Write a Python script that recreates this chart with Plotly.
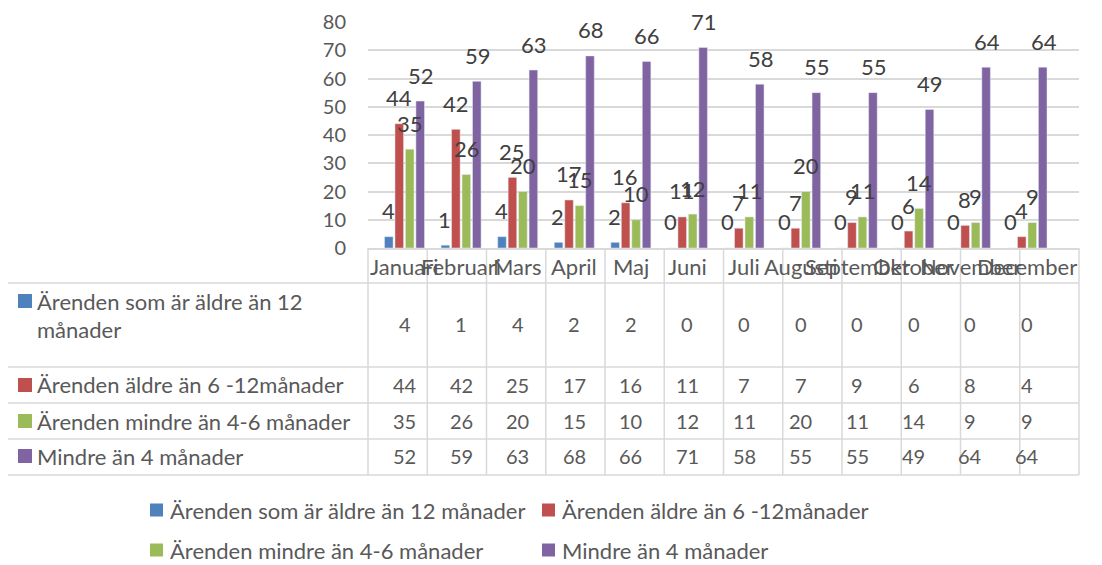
import plotly.graph_objects as go

months = ["Januari", "Februari", "Mars", "April", "Maj", "Juni",
          "Juli", "Augusti", "September", "Oktober", "November", "December"]
series_names = [
    "Ärenden som är äldre än 12 månader",
    "Ärenden äldre än 6 -12månader",
    "Ärenden mindre än 4-6 månader",
    "Mindre än 4 månader",
]
table_labels = [
    ["Ärenden som är äldre än 12", "månader"],
    ["Ärenden äldre än 6 -12månader"],
    ["Ärenden mindre än 4-6 månader"],
    ["Mindre än 4 månader"],
]
older_12 = [4, 1, 4, 2, 2, 0, 0, 0, 0, 0, 0, 0]
older_6_12 = [44, 42, 25, 17, 16, 11, 7, 7, 9, 6, 8, 4]
within_4_6 = [35, 26, 20, 15, 10, 12, 11, 20, 11, 14, 9, 9]
under_4 = [52, 59, 63, 68, 66, 71, 58, 55, 55, 49, 64, 64]
y_ticks = [0, 10, 20, 30, 40, 50, 60, 70, 80]

colors = ["#4f81bd", "#c0504d", "#9bbb59", "#8064a2"]
all_series = [older_12, older_6_12, within_4_6, under_4]

W, H = 1102, 565
OFF = 8  # page body margin
FONT = "Lato, Open Sans, sans-serif"
GRID = "#d9d9d9"
TXT = "#595959"


def px(x):
    return (x - OFF) / W


def py(y):
    return 1 - (y - OFF) / H


def label(x, y, text, size, xref="paper", xanchor="center", color=TXT):
    return dict(x=x, y=y, xref=xref, yref="paper", text=text, showarrow=False,
                xanchor=xanchor, yanchor="middle",
                font=dict(family=FONT, size=size, color=color))


fig = go.Figure()
for name, vals, col in zip(series_names, all_series, colors):
    fig.add_trace(go.Bar(x=months, y=vals, name=name, marker_color=col,
                         showlegend=False))

annotations = []
shapes = []

# data labels above bars
for i, vals in enumerate(all_series):
    for m, v in zip(months, vals):
        annotations.append(dict(
            x=m, y=v, xref="x", yref="y", text=str(v), showarrow=False,
            xshift=(i - 1.5) * 11, yshift=26, xanchor="center", yanchor="middle",
            font=dict(family=FONT, size=22, color="#404040")))

# month header labels
for m in months:
    annotations.append(label(m, py(266), m, 22, xref="x"))

# table rows
row_bounds = [283, 367, 403, 439, 475]
row_centers = [324, 385, 421, 456]
for r, vals in enumerate(all_series):
    yc = row_centers[r]
    for m, v in zip(months, vals):
        annotations.append(label(m, py(yc), str(v), 20, xref="x"))
    if r == 0:
        annotations.append(label(px(35), py(301), table_labels[r][0], 22, xanchor="left"))
        annotations.append(label(px(35), py(329), table_labels[r][1], 22, xanchor="left"))
        sq_y = 301
    else:
        annotations.append(label(px(35), py(yc), table_labels[r][0], 22, xanchor="left"))
        sq_y = yc
    shapes.append(dict(type="rect", xref="paper", yref="paper",
                       x0=px(18), x1=px(32), y0=py(sq_y - 7), y1=py(sq_y + 7),
                       fillcolor=colors[r], line_width=0))

# table grid lines
left_plot, right_plot = 368, 1079
col_w = (right_plot - left_plot) / len(months)
for k in range(len(months) + 1):
    xx = left_plot + k * col_w
    shapes.append(dict(type="line", xref="paper", yref="paper",
                       x0=px(xx), x1=px(xx), y0=py(248), y1=py(475),
                       line=dict(color=GRID, width=1.5)))
shapes.append(dict(type="line", xref="paper", yref="paper",
                   x0=px(7), x1=px(7), y0=py(283), y1=py(475),
                   line=dict(color=GRID, width=1.5)))
for yy in row_bounds:
    shapes.append(dict(type="line", xref="paper", yref="paper",
                       x0=px(7), x1=px(right_plot), y0=py(yy), y1=py(yy),
                       line=dict(color=GRID, width=1.5)))

# legend drawn below table
legend_pos = [(150, 510), (542, 510), (150, 550), (542, 550)]
for (lx, ly), name, col in zip(legend_pos, series_names, colors):
    shapes.append(dict(type="rect", xref="paper", yref="paper",
                       x0=px(lx), x1=px(lx + 13), y0=py(ly - 6.5), y1=py(ly + 6.5),
                       fillcolor=col, line_width=0))
    annotations.append(label(px(lx + 18), py(ly), name, 22, xanchor="left"))

fig.update_layout(
    width=W, height=H,
    margin=dict(l=0, r=0, t=0, b=0, pad=0, autoexpand=False),
    paper_bgcolor="white", plot_bgcolor="white",
    barmode="group", bargap=0.26, bargroupgap=0.18,
    xaxis=dict(domain=[px(left_plot), px(right_plot)], showticklabels=False,
               showgrid=False, showline=True, linecolor=GRID, linewidth=1.5,
               ticks="", automargin=False),
    yaxis=dict(domain=[py(248), py(22)], range=[0, 80], tickvals=y_ticks,
               showgrid=True, gridcolor=GRID, gridwidth=1.5, zeroline=False,
               showline=False, ticks="", ticklabelstandoff=21, automargin=False,
               tickfont=dict(family=FONT, size=20, color=TXT)),
    annotations=annotations,
    shapes=shapes,
)

fig.write_html("out.html")
